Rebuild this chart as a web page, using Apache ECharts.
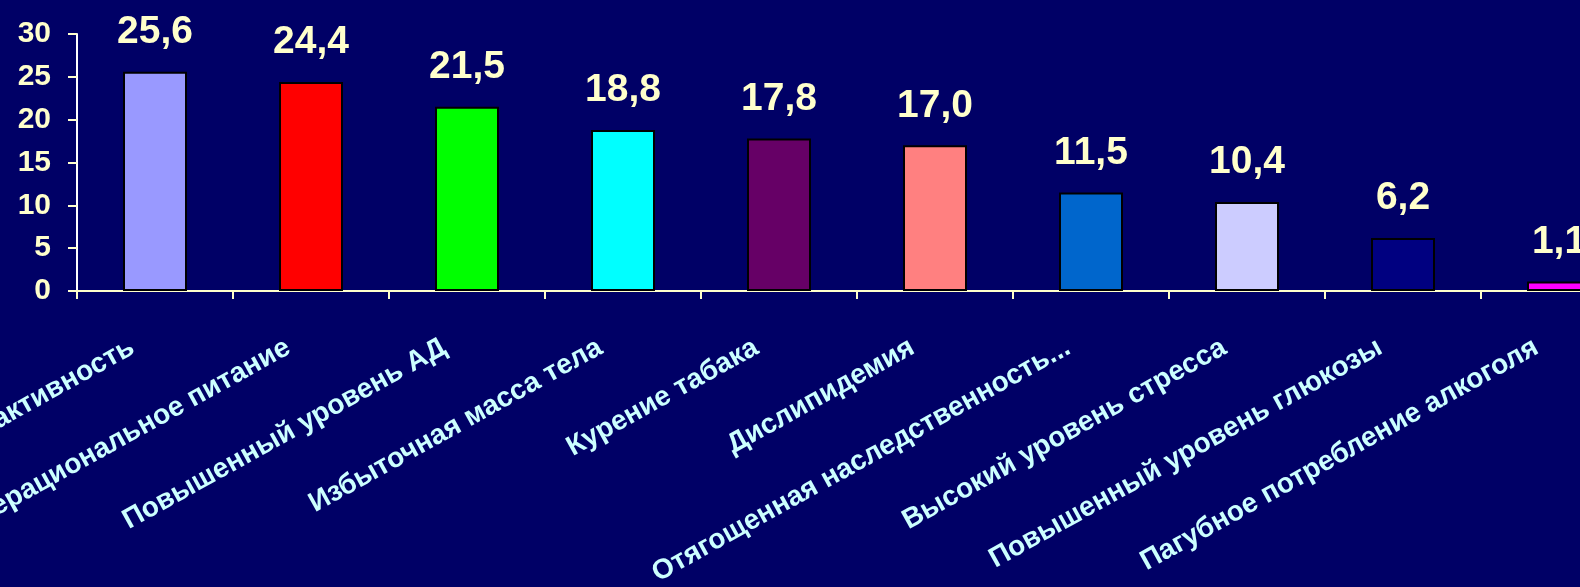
<!DOCTYPE html>
<html><head><meta charset="utf-8">
<script src="https://cdn.jsdelivr.net/npm/echarts@6/dist/echarts.min.js"></script>
<style>html,body{margin:0;padding:0;background:#000066;}#c{width:1580px;height:587px;}</style>
</head><body><div id="c"></div>
<script>
const categories = ['Низкая физическая активность','Нерациональное питание','Повышенный уровень АД','Избыточная масса тела','Курение табака','Дислипидемия','Отягощенная наследственность...','Высокий уровень стресса','Повышенный уровень глюкозы','Пагубное потребление алкоголя'];
const values = [25.6, 24.4, 21.5, 18.8, 17.8, 17.0, 11.5, 10.4, 6.2, 1.1];
const barColors = ['#9999FF','#FF0000','#00FF00','#00FFFF','#660066','#FF8080','#0066CC','#CCCCFF','#000080','#FF00FF'];
const yTicks = [0, 5, 10, 15, 20, 25, 30];
const FONT = 'Arial, "Liberation Sans", sans-serif';
const chart = echarts.init(document.getElementById('c'), null, {renderer:'canvas'});
chart.setOption({
  backgroundColor:'#000066',
  animation:false,
  grid:{left:77, top:34, height:257, width:1560, containLabel:false, outerBoundsMode:'none'},
  xAxis:{type:'category', data:categories,
    axisLine:{lineStyle:{color:'#FFFFCC', width:2}},
    axisTick:{show:true, length:8, lineStyle:{color:'#FFFFCC', width:2}},
    axisLabel:{rotate:29, interval:0, color:'#CCFFFF', fontSize:28, fontWeight:'bold', fontFamily:FONT, margin:42, padding:[0,26,0,0]}
  },
  yAxis:{type:'value', min:yTicks[0], max:yTicks[yTicks.length-1], interval:5,
    axisLine:{show:true, lineStyle:{color:'#FFFFFF', width:2}},
    axisTick:{show:true, length:9, lineStyle:{color:'#FFFFCC', width:2}},
    splitLine:{show:false},
    axisLabel:{color:'#FFFFCC', fontSize:30, fontWeight:'bold', fontFamily:FONT, margin:26}
  },
  series:[{type:'bar', barWidth:64,
    data: values.map((v,i)=>({value:v, itemStyle:{color:barColors[i]}})),
    itemStyle:{borderColor:'#000000', borderWidth:2},
    label:{show:true, position:'top', distance:20, color:'#FFFFCC', fontSize:39, fontWeight:'bold', fontFamily:FONT,
      formatter:p=>p.value.toFixed(1).replace('.',',')}
  }]
});
</script></body></html>
